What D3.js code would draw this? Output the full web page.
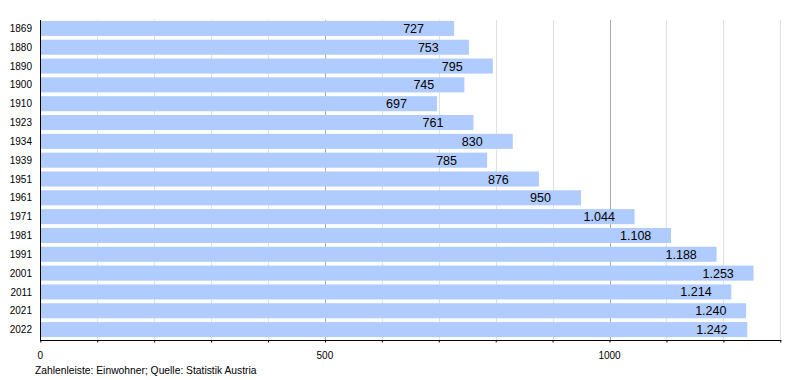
<!DOCTYPE html>
<html><head><meta charset="utf-8">
<script src="https://cdn.jsdelivr.net/npm/d3@7"></script>
<style>body{margin:0;background:#fff;font-family:"Liberation Sans",Arial,sans-serif;}</style>
</head><body>
<svg id="c" width="800" height="380"></svg>
<script>
const years = ["1869","1880","1890","1900","1910","1923","1934","1939","1951","1961","1971","1981","1991","2001","2011","2021","2022"];
const population = [727,753,795,745,697,761,830,785,876,950,1044,1108,1188,1253,1214,1240,1242];
const xTicks = [0,500,1000];
const footer = "Zahlenleiste: Einwohner; Quelle: Statistik Austria";

const svg = d3.select("#c");
const x = d3.scaleLinear().domain([0,1300]).range([40.3,780.3]);
const y = d3.scaleBand().domain(years).range([19,339]).paddingInner(0.2).paddingOuter(0.1);
const plotTop = 20, plotBottom = 340.5;

// grid
const grid = d3.range(100,1301,100);
svg.append("g").selectAll("line").data(grid).join("line")
  .attr("x1",d=>Math.round(x(d))+0.5).attr("x2",d=>Math.round(x(d))+0.5)
  .attr("y1",plotTop).attr("y2",plotBottom)
  .attr("stroke",d=>d%500===0?"#aaaaaa":"#e0e0e0").attr("stroke-width",1);

// bars
svg.append("g").selectAll("rect").data(population).join("rect")
  .attr("x",x(0)).attr("y",(d,i)=>y(years[i]))
  .attr("width",d=>x(d)-x(0)).attr("height",y.bandwidth())
  .attr("fill","#b0cbfe");

// value labels
const fmt = d3.formatLocale({decimal:",",thousands:".",grouping:[3],currency:["","€"]}).format(",d");
svg.append("g").selectAll("text").data(population).join("text")
  .attr("x",d=>x(d)-51).attr("y",(d,i)=>y(years[i])+y.bandwidth()/2)
  .attr("dy","0.36em").attr("font-size",12.5).attr("fill","#000")
  .text(d=>fmt(d));

// y labels
svg.append("g").selectAll("text").data(years).join("text")
  .attr("x",32).attr("y",d=>y(d)+y.bandwidth()/2).attr("dy","0.36em")
  .attr("text-anchor","end").attr("font-size",10).attr("fill","#000").text(d=>d);

// axes lines
svg.append("line").attr("x1",40.5).attr("x2",40.5).attr("y1",plotTop).attr("y2",plotBottom+0.5).attr("stroke","#000");
svg.append("line").attr("x1",40).attr("x2",x(1300)+1).attr("y1",plotBottom).attr("y2",plotBottom).attr("stroke","#000");
const xAxis = d3.axisBottom(x).tickValues(grid.concat([0])).tickSize(2).tickFormat(()=>"");
const ax = svg.append("g").attr("transform",`translate(0,${plotBottom})`).call(xAxis);
ax.select(".domain").remove();
ax.selectAll(".tick line").attr("stroke","#000");
svg.append("g").selectAll("text").data(xTicks).join("text")
  .attr("x",d=>x(d)).attr("y",358.5).attr("text-anchor","middle")
  .attr("font-size",10).attr("fill","#000").text(d=>d);

svg.append("text").attr("x",35).attr("y",373.5).attr("font-size",10.3).attr("fill","#000").text(footer);
</script>
</body></html>
